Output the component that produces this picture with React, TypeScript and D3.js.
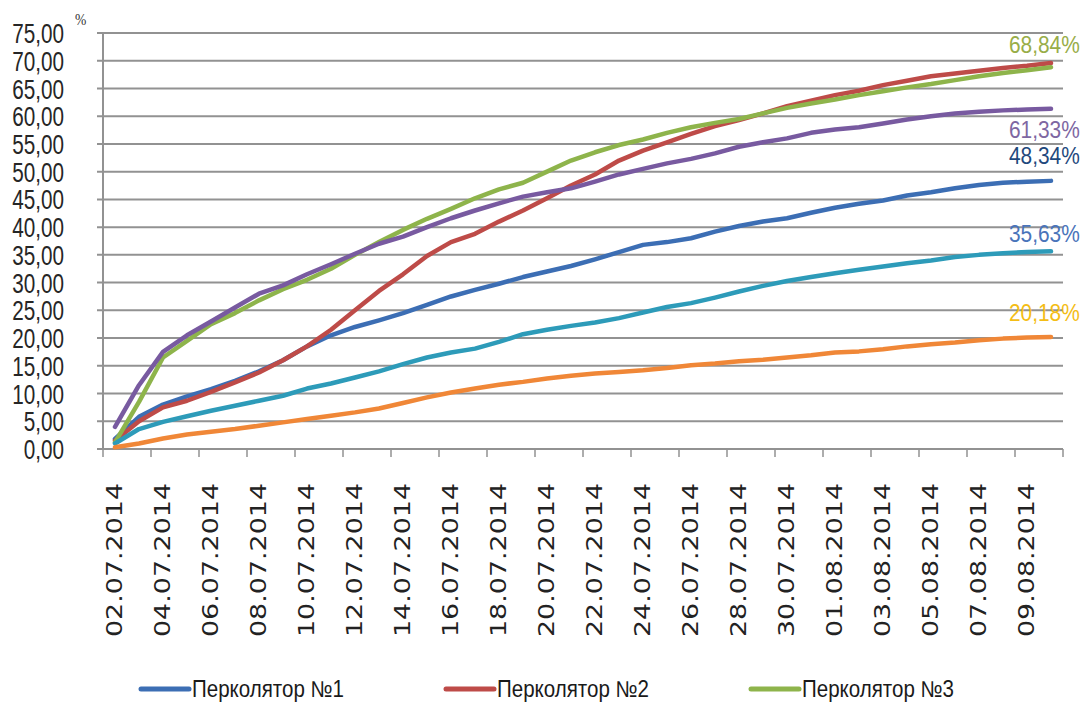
import React from "react";
import * as d3 from "d3";

// Calendar days on the category axis
const dates = [
  "02.07.2014", "03.07.2014", "04.07.2014", "05.07.2014", "06.07.2014", "07.07.2014",
  "08.07.2014", "09.07.2014", "10.07.2014", "11.07.2014", "12.07.2014", "13.07.2014",
  "14.07.2014", "15.07.2014", "16.07.2014", "17.07.2014", "18.07.2014", "19.07.2014",
  "20.07.2014", "21.07.2014", "22.07.2014", "23.07.2014", "24.07.2014", "25.07.2014",
  "26.07.2014", "27.07.2014", "28.07.2014", "29.07.2014", "30.07.2014", "31.07.2014",
  "01.08.2014", "02.08.2014", "03.08.2014", "04.08.2014", "05.08.2014", "06.08.2014",
  "07.08.2014", "08.08.2014", "09.08.2014", "10.08.2014",
];

// Cumulative extraction, %
const perc1 = [
  1.8, 5.8, 8.0, 9.5, 10.8, 12.3, 14.0, 16.0, 18.5, 20.5, 22.0, 23.2, 24.5, 26.0, 27.5, 28.7,
  29.8, 31.0, 32.0, 33.0, 34.2, 35.5, 36.8, 37.3, 38.0, 39.2, 40.2, 41.0, 41.6, 42.6, 43.5,
  44.2, 44.8, 45.7, 46.3, 47.0, 47.6, 48.0, 48.2, 48.34,
];
const perc2 = [
  1.5, 5.0, 7.5, 8.7, 10.3, 12.0, 13.8, 16.0, 18.5, 21.5, 25.0, 28.5, 31.5, 34.8, 37.3, 38.8,
  41.0, 43.0, 45.2, 47.5, 49.5, 52.0, 53.8, 55.3, 56.8, 58.2, 59.3, 60.5, 61.8, 62.8, 63.8,
  64.6, 65.6, 66.4, 67.2, 67.7, 68.2, 68.7, 69.1, 69.6,
];
const perc3 = [
  1.2, 8.5, 16.5, 19.5, 22.5, 24.5, 26.8, 28.8, 30.5, 32.5, 35.0, 37.3, 39.5, 41.5, 43.3, 45.2,
  46.8, 48.0, 50.0, 52.0, 53.5, 54.8, 55.8, 57.0, 58.0, 58.8, 59.5, 60.5, 61.5, 62.3, 63.0,
  63.8, 64.5, 65.2, 65.8, 66.5, 67.2, 67.8, 68.3, 68.84,
];
const perc4 = [
  4.0, 11.5, 17.5, 20.5, 23.0, 25.5, 28.0, 29.5, 31.5, 33.3, 35.2, 37.0, 38.3, 40.0, 41.6, 43.0,
  44.3, 45.5, 46.3, 47.0, 48.2, 49.5, 50.5, 51.5, 52.3, 53.3, 54.5, 55.3, 56.0, 57.0, 57.6,
  58.0, 58.7, 59.4, 60.0, 60.5, 60.8, 61.05, 61.2, 61.33,
];
const perc5 = [
  1.0, 3.6, 4.9, 5.9, 6.9, 7.8, 8.7, 9.6, 10.9, 11.8, 12.9, 14.0, 15.3, 16.5, 17.4, 18.1,
  19.3, 20.7, 21.5, 22.2, 22.8, 23.6, 24.6, 25.6, 26.3, 27.3, 28.4, 29.4, 30.3, 31.0, 31.7,
  32.3, 32.9, 33.5, 34.0, 34.6, 35.0, 35.3, 35.5, 35.63,
];
const perc6 = [
  0.3, 1.0, 1.9, 2.6, 3.1, 3.6, 4.2, 4.8, 5.4, 6.0, 6.6, 7.3, 8.3, 9.3, 10.2, 10.9,
  11.6, 12.1, 12.7, 13.2, 13.6, 13.9, 14.2, 14.6, 15.1, 15.4, 15.8, 16.1, 16.5, 16.9, 17.4,
  17.6, 18.0, 18.5, 18.9, 19.2, 19.6, 19.9, 20.1, 20.18,
];

const yTicks = [0, 5, 10, 15, 20, 25, 30, 35, 40, 45, 50, 55, 60, 65, 70, 75];

type Series = {
  name: string;
  values: number[];
  color: string;
  legend: boolean;
  label?: { color: string; dy: number };
};

const series: Series[] = [
  { name: "Перколятор №1", values: perc1, color: "#3C6EB4", legend: true, label: { color: "#1F497D", dy: -17 } },
  { name: "Перколятор №2", values: perc2, color: "#BE4B48", legend: true },
  { name: "Перколятор №3", values: perc3, color: "#8EB44B", legend: true, label: { color: "#98AD48", dy: -14 } },
  { name: "Перколятор №4", values: perc4, color: "#785AA0", legend: false, label: { color: "#7E67A2", dy: 29 } },
  { name: "Перколятор №5", values: perc5, color: "#2D9BB9", legend: false, label: { color: "#4A74BA", dy: -9.5 } },
  { name: "Перколятор №6", values: perc6, color: "#F08737", legend: false, label: { color: "#F4BD16", dy: -16 } },
];

const W = 1088;
const H = 708;
const plot = { left: 103, right: 1063, top: 33, bottom: 449 };
const gridColor = "#929292";

const ruLocale = d3.formatLocale({ decimal: ",", thousands: " ", grouping: [3], currency: ["", ""] });
const fmt2 = ruLocale.format(".2f");

export default function App() {
  const x = d3.scaleBand<string>().domain(dates).range([plot.left, plot.right]).padding(0);
  const y = d3.scaleLinear().domain([0, 75]).range([plot.bottom, plot.top]);
  const cx = (d: string) => (x(d) as number) + x.bandwidth() / 2;

  const line = d3
    .line<number>()
    .x((_, i) => cx(dates[i]))
    .y((v) => y(v));

  // Tick marks sit on every second category boundary
  const tickXs = d3.range(0, dates.length + 1, 2).map((i) => plot.left + i * x.bandwidth());

  const legendItems = series.filter((s) => s.legend);

  return (
    <svg
      width={W}
      height={H}
      style={{ position: "absolute", left: 0, top: 0, background: "#fff" }}
      fontFamily="'Liberation Sans', Arial, sans-serif"
    >
      <rect x={0} y={0} width={W} height={H} fill="#fff" />

      {/* horizontal gridlines */}
      {yTicks.map((t) => (
        <line key={"g" + t} x1={plot.left - 6} x2={plot.right} y1={y(t)} y2={y(t)} stroke={gridColor} strokeWidth={2} />
      ))}

      {/* value axis */}
      <line x1={plot.left} x2={plot.left} y1={plot.top} y2={plot.bottom} stroke={gridColor} strokeWidth={2} />
      {yTicks.map((t) => (
        <text
          key={"yl" + t}
          transform={`translate(64,${y(t)}) scale(0.74,1)`}
          textAnchor="end"
          dy="0.36em"
          fontSize={28}
          fill="#262626"
        >
          {fmt2(t)}
        </text>
      ))}
      <text transform="translate(75,25) scale(0.8,1)" fontSize={17} fontFamily="'Liberation Serif', serif" fill="#333">
        %
      </text>

      {/* category axis */}
      {tickXs.map((tx, i) => (
        <line key={"t" + i} x1={tx} x2={tx} y1={plot.bottom} y2={plot.bottom + 8} stroke={gridColor} strokeWidth={1.5} />
      ))}
      {dates.map((d, i) =>
        i % 2 === 0 ? (
          <text
            key={"xl" + d}
            transform={`translate(${cx(d)},637) rotate(-90)`}
            dy="0.36em"
            fontSize={20.5}
            fontFamily="'DejaVu Sans', Verdana, sans-serif"
            textLength={154}
            lengthAdjust="spacingAndGlyphs"
            fill="#222"
          >
            {d}
          </text>
        ) : null
      )}

      {/* series lines */}
      {series.map((s) => (
        <path
          key={s.name}
          d={line(s.values) as string}
          fill="none"
          stroke={s.color}
          strokeWidth={4.5}
          strokeLinejoin="round"
          strokeLinecap="round"
        />
      ))}

      {/* end-value labels */}
      {series.map((s) => {
        if (!s.label) return null;
        const last = s.values[s.values.length - 1];
        return (
          <text
            key={"lab" + s.name}
            transform={`translate(1009,${y(last) + s.label.dy}) scale(0.87,1)`}
            fontSize={24}
            fill={s.label.color}
          >
            {fmt2(last) + "%"}
          </text>
        );
      })}

      {/* legend */}
      {legendItems.map((s, i) => {
        const lx = 141 + i * 305;
        return (
          <g key={"leg" + s.name}>
            <line x1={lx} x2={lx + 48} y1={689} y2={689} stroke={s.color} strokeWidth={5} strokeLinecap="round" />
            <text
              x={lx + 51}
              y={697}
              fontSize={23}
              textLength={152}
              lengthAdjust="spacingAndGlyphs"
              fill="#1a1a1a"
            >
              {s.name}
            </text>
          </g>
        );
      })}
    </svg>
  );
}
